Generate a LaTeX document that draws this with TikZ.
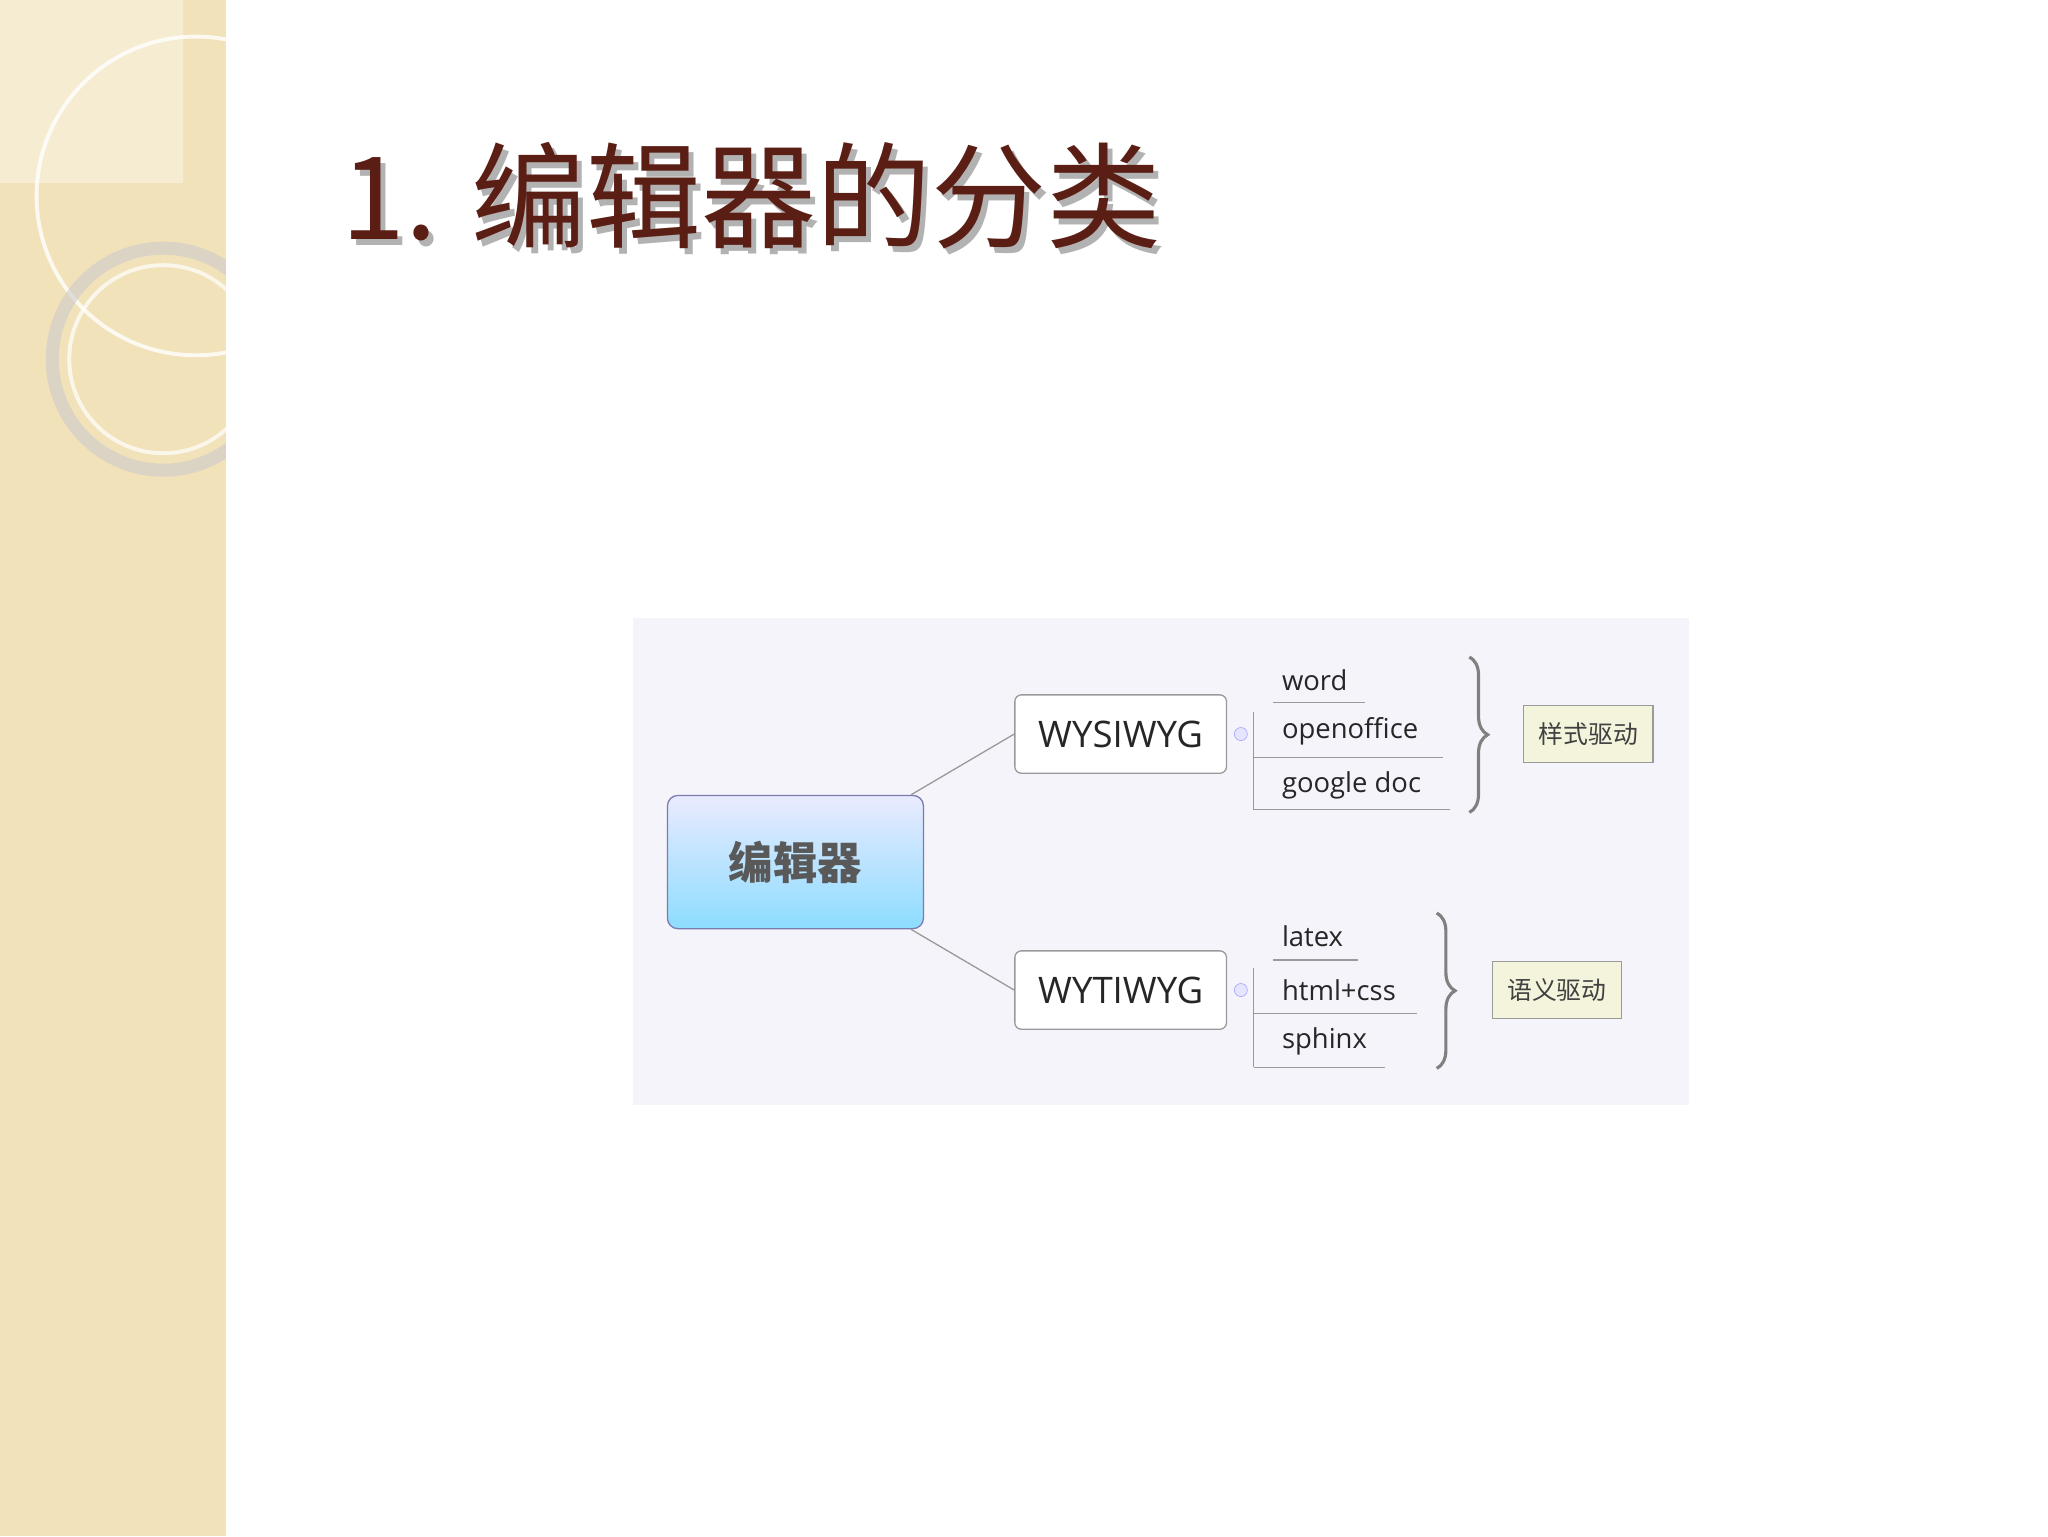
\documentclass[tikz,border=0pt]{standalone}
\usepackage{fontspec}
\setmainfont{Open Sans}
\newfontfamily\cjk{Noto Sans CJK SC}
\usetikzlibrary{decorations.pathreplacing,shadows}
\definecolor{strip}{HTML}{F2E2BA}
\definecolor{titlec}{HTML}{5A1E14}
\definecolor{panel}{HTML}{F4F4FA}
\definecolor{boxline}{HTML}{9A9A9A}
\definecolor{tagfill}{HTML}{F4F4DC}
\tikzset{
 x=1pt,y=-1pt,
 mainbox/.style={draw=boxline,rounded corners=5pt,fill=white,line width=1pt,minimum width=162pt,minimum height=60pt,font=\fontsize{28}{30}\selectfont,text=black!85},
 leaf/.style={anchor=west,font=\fontsize{21}{23}\selectfont,text=black!85},
 tag/.style={draw=boxline,fill=tagfill,line width=1pt,minimum width=99pt,minimum height=44pt,font=\cjk\fontsize{19}{21}\selectfont,text=black!75},
 conn/.style={draw=boxline,line width=1pt},
 brace/.style={draw=black!50,line width=2.4pt,decorate,decoration={brace,amplitude=14pt}}
}
\begin{document}
\begin{tikzpicture}
\useasboundingbox (0,0) rectangle (1568,1176);
\fill[white] (0,0) rectangle (1568,1176);
\fill[strip] (0,0) rectangle (173,1176);
\fill[white,opacity=0.35] (0,0) rectangle (140,140);
\begin{scope}
\clip (0,0) rectangle (173,1176);
\draw[white,line width=3pt,opacity=0.8] (150,150) circle (122);
\draw[black!20,line width=10pt,opacity=0.6] (125,275) circle (85);
\draw[white,line width=3pt,opacity=0.7] (125,275) circle (72);
\end{scope}
\node[anchor=west,text=black!30,font=\cjk\fontsize{88}{90}\selectfont] at (262,154) {1. 编辑器的分类};
\node[anchor=west,text=titlec,font=\cjk\fontsize{88}{90}\selectfont] (title) at (258,150) {1. 编辑器的分类};
\fill[panel] (485,473) rectangle (1293,846);
\node[draw=boxline!80!blue,rounded corners=8pt,line width=1pt,minimum width=196pt,minimum height=102pt,
 top color=blue!8,bottom color=blue!30!cyan!45,font=\cjk\bfseries\fontsize{34}{36}\selectfont,text=black!65] (c) at (609,660) {编辑器};
\node[mainbox] (a) at (858,562) {WYSIWYG};
\node[mainbox] (b) at (858,758) {WYTIWYG};
\draw[conn] (c.north east) ++(-10,0) -- (a.west);
\draw[conn] (c.south east) ++(-10,0) -- (b.west);
\foreach \n/\y in {a/562,b/758}{
 \node[draw=blue!40,fill=blue!10,circle,inner sep=0pt,minimum size=10pt] (k\n) at (950,\y) {};
}
\coordinate (va1) at (960,545); \coordinate (va2) at (960,620);
\draw[conn,line width=0.8pt] (va1) -- (va2);
\node[leaf] (w1) at (978,521) {word};
\node[leaf] (w2) at (978,560) {openoffice};
\node[leaf] (w3) at (978,601) {google doc};
\draw[conn,line width=0.8pt] (960,580) -- (1105,580) (960,620) -- (1110,620);
\draw[conn,line width=0.8pt] (975,538) -- (1045,538);
\coordinate (vb1) at (960,741); \coordinate (vb2) at (960,817);
\draw[conn,line width=0.8pt] (vb1) -- (vb2);
\node[leaf] (l1) at (978,717) {latex};
\node[leaf] (l2) at (978,758) {html+css};
\node[leaf] (l3) at (978,797) {sphinx};
\draw[conn,line width=0.8pt] (975,735) -- (1040,735) (960,776) -- (1085,776) (960,817) -- (1060,817);
\draw[brace] (1125,503) -- (1125,622);
\draw[brace] (1100,699) -- (1100,818);
\node[tag] (t1) at (1216,562) {样式驱动};
\node[tag] (t2) at (1192,758) {语义驱动};
\end{tikzpicture}
\end{document}
